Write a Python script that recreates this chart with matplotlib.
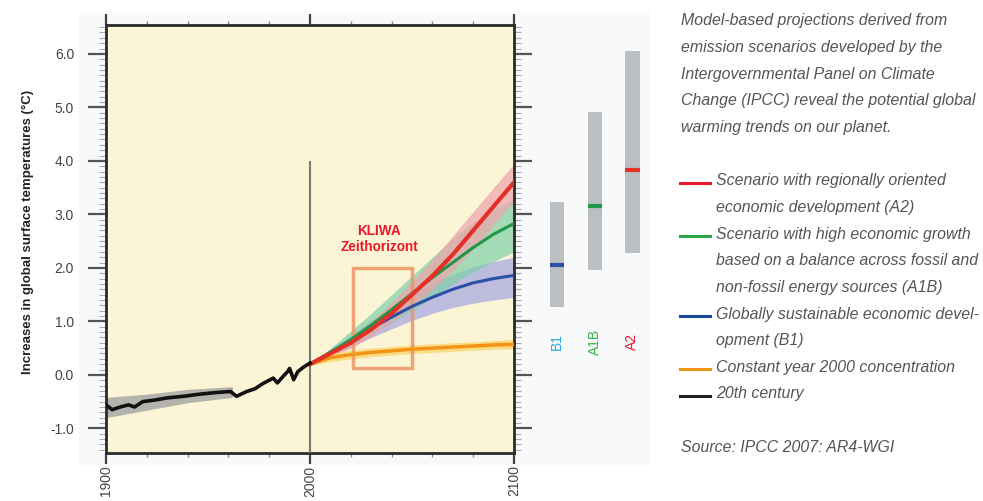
import matplotlib
matplotlib.use("Agg")
import matplotlib.pyplot as plt
import numpy as np
from matplotlib.patches import Rectangle
from matplotlib.lines import Line2D
from matplotlib.ticker import MultipleLocator, FormatStrFormatter

plt.rcParams["font.family"] = ["Liberation Sans", "DejaVu Sans"]
plt.rcParams["axes.unicode_minus"] = False

# ─── data ───────────────────────────────────────────────────────────
hist_years = [1900, 1903, 1907, 1911, 1914, 1918, 1924, 1930, 1938, 1946, 1954,
              1961, 1964, 1969, 1973, 1977, 1982, 1984, 1987, 1989, 1990, 1992,
              1994, 1997, 2000]
hist_temp = [-0.56, -0.65, -0.60, -0.56, -0.60, -0.50, -0.47, -0.43, -0.40, -0.36, -0.33,
             -0.31, -0.40, -0.31, -0.26, -0.16, -0.06, -0.15, -0.02, 0.06, 0.12, -0.09,
             0.06, 0.15, 0.22]
hist_band_years = [1900, 1920, 1940, 1962]
hist_band_hi = [-0.42, -0.36, -0.27, -0.22]
hist_band_lo = [-0.80, -0.66, -0.52, -0.42]

proj_years = [2000, 2010, 2020, 2030, 2040, 2050, 2060, 2070, 2080, 2090, 2100]
a2 = [0.20, 0.40, 0.60, 0.85, 1.15, 1.50, 1.85, 2.25, 2.70, 3.15, 3.60]
a2_hi = [0.20, 0.45, 0.70, 1.00, 1.35, 1.75, 2.15, 2.60, 3.05, 3.50, 3.95]
a2_lo = [0.20, 0.35, 0.50, 0.72, 0.98, 1.28, 1.60, 1.95, 2.35, 2.80, 3.25]
a1b = [0.20, 0.42, 0.66, 0.93, 1.22, 1.52, 1.82, 2.10, 2.38, 2.63, 2.83]
a1b_hi = [0.20, 0.50, 0.82, 1.15, 1.50, 1.85, 2.20, 2.55, 2.85, 3.10, 3.30]
a1b_lo = [0.20, 0.36, 0.54, 0.75, 0.98, 1.20, 1.45, 1.70, 1.92, 2.12, 2.30]
b1 = [0.20, 0.42, 0.64, 0.87, 1.08, 1.28, 1.45, 1.60, 1.72, 1.80, 1.86]
b1_hi = [0.20, 0.48, 0.75, 1.02, 1.28, 1.52, 1.72, 1.88, 2.02, 2.12, 2.20]
b1_lo = [0.20, 0.36, 0.52, 0.70, 0.86, 1.02, 1.15, 1.26, 1.34, 1.40, 1.45]
commit = [0.20, 0.32, 0.38, 0.42, 0.45, 0.48, 0.50, 0.52, 0.54, 0.56, 0.57]
commit_hi = [0.22, 0.40, 0.46, 0.50, 0.53, 0.56, 0.58, 0.60, 0.62, 0.64, 0.66]
commit_lo = [0.18, 0.25, 0.30, 0.34, 0.37, 0.40, 0.42, 0.44, 0.46, 0.48, 0.49]

# KLIWA time horizon box
kliwa_years = (2021, 2050)
kliwa_temps = (0.12, 2.0)

# likely ranges at 2090-2099
range_names = ["B1", "A1B", "A2"]
range_low = [1.27, 1.96, 2.28]
range_high = [3.23, 4.92, 6.06]
range_best = [2.06, 3.16, 3.83]
range_colors = ["#2a4fa6", "#1f9648", "#e53027"]
range_label_colors = ["#29a8e0", "#3cb44a", "#e8192c"]

y_ticks = [-1, 0, 1, 2, 3, 4, 5, 6]
x_ticks = [1900, 2000, 2100]

intro = ["Model-based projections derived from",
         "emission scenarios developed by the",
         "Intergovernmental Panel on Climate",
         "Change (IPCC) reveal the potential global",
         "warming trends on our planet."]
legend_entries = [
    ("#e8192c", ["Scenario with regionally oriented", "economic development (A2)"]),
    ("#2aa845", ["Scenario with high economic growth",
                 "based on a balance across fossil and",
                 "non-fossil energy sources (A1B)"]),
    ("#1a4a9c", ["Globally sustainable economic devel-", "opment (B1)"]),
    ("#f39419", ["Constant year 2000 concentration"]),
    ("#222222", ["20th century"]),
]
source = "Source: IPCC 2007: AR4-WGI"

# ─── figure ─────────────────────────────────────────────────────────
W, H = 983, 501
fig = plt.figure(figsize=(W / 100, H / 100), dpi=100)


def fx(px):
    return px / W


def fy(py):
    return 1 - py / H


# faint panel behind the chart
fig.patches.append(Rectangle((fx(79), fy(465)), fx(650 - 79), (465 - 12) / H,
                             transform=fig.transFigure, facecolor="#f8f9fb",
                             edgecolor="none", zorder=-5))

ax = fig.add_axes([fx(106), fy(453), fx(514 - 106), (453 - 25) / H])
ax.set_zorder(2)
ax.set_facecolor("#fcf5d5")
ax.set_xlim(1900, 2100)
ax.set_ylim(-1.46, 6.54)

# 20th century
ax.fill_between(hist_band_years, hist_band_lo, hist_band_hi, color="#96989c",
                alpha=0.7, lw=0, zorder=2)
ax.plot(hist_years, hist_temp, color="#111111", lw=2.6, zorder=6)

# projections
ax.fill_between(proj_years, b1_lo, b1_hi, color="#a9a9e2", alpha=0.75, lw=0, zorder=2)
ax.fill_between(proj_years, a1b_lo, a1b_hi, color="#7fcfa8", alpha=0.7, lw=0, zorder=2)
ax.fill_between(proj_years, a2_lo, a2_hi, color="#f2a2ac", alpha=0.7, lw=0, zorder=2)
ax.fill_between(proj_years, commit_lo, commit_hi, color="#f8cc4e", alpha=0.6, lw=0, zorder=2)
ax.plot(proj_years, commit, color="#f39419", lw=2.5, zorder=4)
ax.plot(proj_years, b1, color="#2a4fa6", lw=2.2, zorder=4)
ax.plot(proj_years, a1b, color="#1f9648", lw=2.2, zorder=4)
ax.plot(proj_years, a2, color="#e53027", lw=3, zorder=5)

ax.vlines(2000, -1.46, 4.0, color="#7a7a7a", lw=1.5, zorder=3)

ax.add_patch(Rectangle((kliwa_years[0], kliwa_temps[0]),
                       kliwa_years[1] - kliwa_years[0], kliwa_temps[1] - kliwa_temps[0],
                       fill=False, edgecolor="#ee9466", lw=2.5, alpha=0.85, zorder=3))
ax.text(2034, 2.54, "KLIWA\nZeithorizont", color="#e8192c",
        fontsize=9.8, fontweight="bold", ha="center", va="center", linespacing=1.15,
        zorder=7)

# axes styling
for s in ax.spines.values():
    s.set_linewidth(2)
    s.set_color("#2a2a2a")
ax.set_yticks(y_ticks)
ax.yaxis.set_major_formatter(FormatStrFormatter("%.1f"))
ax.yaxis.set_minor_locator(MultipleLocator(0.1))
ax.set_xticks(x_ticks)
ax.set_xticklabels([str(v) for v in x_ticks], rotation=90, va="top")
ax.xaxis.set_minor_locator(MultipleLocator(20))
ax.tick_params(axis="y", which="major", direction="out", length=13, width=1.6,
               color="#555555", left=True, right=True, labelsize=10,
               labelcolor="#444444", pad=10)
ax.tick_params(axis="y", which="minor", direction="out", length=5, width=0.8,
               color="#aaaaaa", left=True, right=True)
ax.tick_params(axis="x", which="major", direction="out", length=8, width=1.6,
               color="#444444", top=True, bottom=True, labelsize=10,
               labelcolor="#444444", pad=1)
ax.tick_params(axis="x", which="minor", direction="out", length=3, width=1,
               color="#888888", top=True, bottom=True)

fig.text(fx(28), fy(232), "Increases in global surface temperatures (°C)",
         rotation=90, ha="center", va="center", fontsize=9.5, fontweight="bold",
         color="#222222")

# likely range bars
axb = fig.add_axes([fx(514), fy(453), fx(660 - 514), (453 - 25) / H], sharey=ax)
axb.set_zorder(1)
axb.set_xlim(-1.14, 2.73)
axb.axis("off")
xpos = np.arange(len(range_names))
axb.bar(xpos, np.array(range_high) - np.array(range_low), bottom=range_low,
        width=0.38, color="#bcbfc2", edgecolor="none")
axb.hlines(range_best, xpos - 0.19, xpos + 0.19, colors=range_colors, lw=3)
for x, name, c in zip(xpos, range_names, range_label_colors):
    axb.text(x, 0.62, name, rotation=90, ha="center", va="center", color=c,
             fontsize=10)

# right-hand text
txt_kw = dict(fontsize=11.4, style="italic", color="#555555", va="center")
for i, line in enumerate(intro):
    fig.text(fx(681), fy(21 + i * 26.6), line, **txt_kw)

y = 181
for color, lines in legend_entries:
    fig.add_artist(Line2D([fx(680), fx(710)], [fy(y + 2), fy(y + 2)],
                          color=color, lw=2.2, transform=fig.transFigure))
    for line in lines:
        fig.text(fx(716), fy(y), line, **txt_kw)
        y += 26.6

fig.text(fx(681), fy(447), source, **txt_kw)

fig.savefig("out.png", dpi=100)
